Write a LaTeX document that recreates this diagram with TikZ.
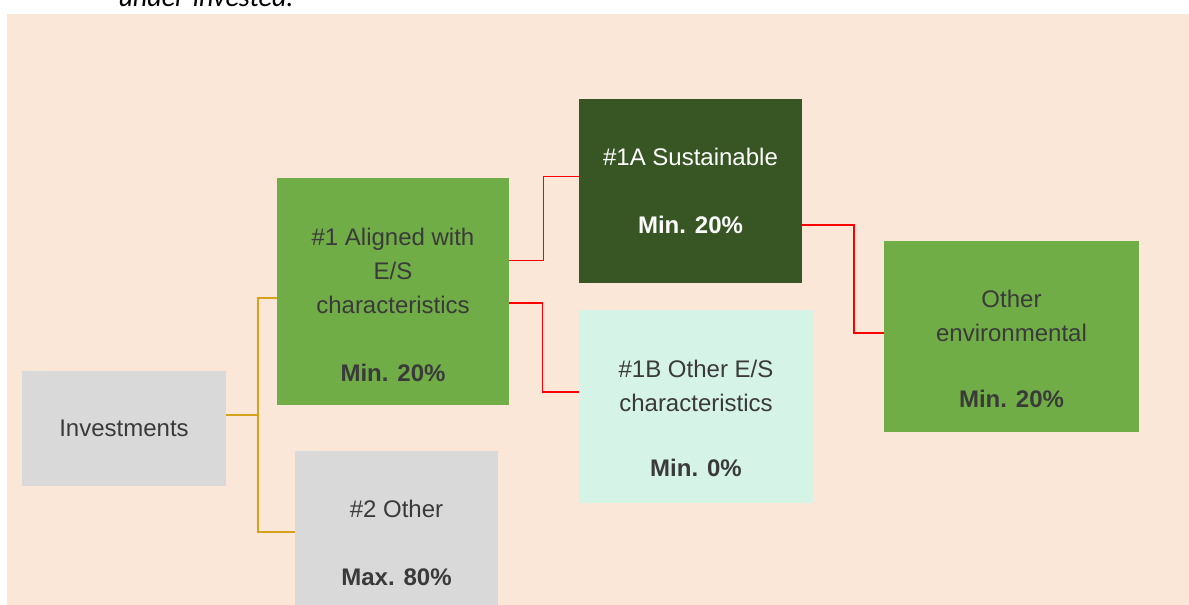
\documentclass[tikz,border=0pt]{standalone}
\usepackage{fontspec}
\setmainfont{Liberation Sans}
\newfontfamily\bodyfont{Carlito}

\definecolor{peach}{HTML}{FBE7D7}
\definecolor{leaf}{HTML}{70AD47}
\definecolor{forest}{HTML}{375623}
\definecolor{mist}{HTML}{D9D9D9}
\definecolor{mint}{HTML}{D5F3E7}
\definecolor{gold}{HTML}{D6A21E}
\definecolor{ink}{HTML}{3A3A3A}

\begin{document}
\begin{tikzpicture}[
            x = 1pt, y = -1pt, % one unit per pixel, going down
            line width = 1.2pt, % connector width
            font = \fontsize{24}{34}\selectfont
        ]

        \tikzstyle{box}=[
            rectangle,
            anchor = north west,
            inner sep = 0pt,
            outer sep = 0pt,
            text = ink
        ]
        \tikzstyle{txt}=[
            align = center,
            inner sep = 0pt,
            text = ink
        ]
        \tikzstyle{goldline}=[draw = gold]
        \tikzstyle{redline}=[draw = red]

        % page and background
        \clip (0,0) rectangle (1189,605);
        \fill[white] (0,0) rectangle (1189,605);
        \fill[peach] (7,14) rectangle (1189,605);
        \node[anchor = base west, inner sep = 0pt,
              font = {\bodyfont\itshape\fontsize{28}{34}\selectfont}] (cut) at (118,6.5) {under-invested.};

        % boxes
        \node[box, fill = mist, minimum width = 204pt, minimum height = 115pt] (inv) at (22,371) {Investments};
        \node[box, fill = leaf, minimum width = 232pt, minimum height = 227pt] (al) at (277,178) {};
        \node[box, fill = mist, minimum width = 203pt, minimum height = 158pt] (oth) at (295,451) {};
        \node[box, fill = forest, minimum width = 223pt, minimum height = 184pt] (sus) at (579,99) {};
        \node[box, fill = mint, minimum width = 234pt, minimum height = 193pt] (ose) at (579,310) {};
        \node[box, fill = leaf, minimum width = 255pt, minimum height = 191pt] (env) at (884,241) {};

        % box texts
        \node[txt] (al-t) at ([yshift=-13.5pt]al.center) {\#1 Aligned with\\E/S\\characteristics\\[34pt]\textbf{Min. 20\%}};
        \node[txt] (oth-t) at ([yshift=-13pt]oth.center) {\#2 Other\\[34pt]\textbf{Max. 80\%}};
        \node[txt, text = white] (sus-t) at (sus.center) {\#1A Sustainable\\[34pt]\textbf{Min. 20\%}};
        \node[txt] (ose-t) at ([yshift=-11.5pt]ose.center) {\#1B Other E/S\\characteristics\\[31pt]\textbf{Min. 0\%}};
        \node[txt] (env-t) at ([yshift=-12pt]env.center) {Other\\environmental\\[32pt]\textbf{Min. 20\%}};

        % connectors
        \draw[goldline] ([yshift=13.5pt]inv.east) -- ++(32,0) coordinate (gj);
        \draw[goldline] ([yshift=-6.5pt]al.west) -| (gj) |- ([yshift=-2pt]oth.west);
        \draw[redline] ([yshift=31pt]al.east) -- ++(34.5,0) |- ([yshift=14.5pt]sus.west);
        \draw[redline] ([yshift=-11.5pt]al.east) -- ++(33.5,0) |- ([yshift=14.5pt]ose.west);
        \draw[redline] ([yshift=-34pt]sus.east) -- ++(52,0) |- ([yshift=3.5pt]env.west);

  \end{tikzpicture}
\end{document}
